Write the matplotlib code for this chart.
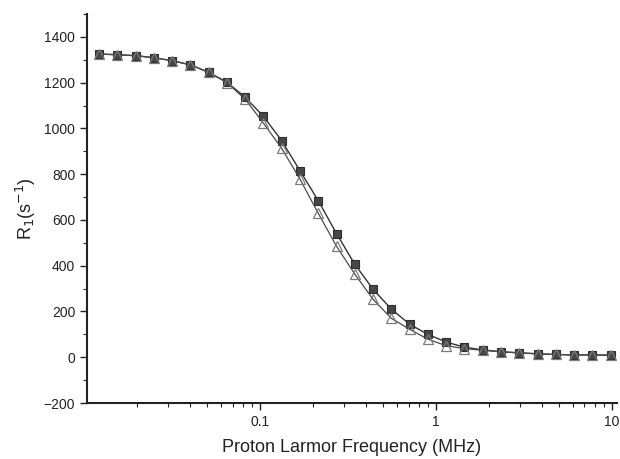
import matplotlib
matplotlib.use("Agg")
import matplotlib.pyplot as plt
from matplotlib.ticker import MultipleLocator, LogLocator, NullFormatter, FixedLocator, FixedFormatter

plt.rcParams['font.family'] = ['Liberation Sans', 'DejaVu Sans']

freq = [0.01216, 0.01545, 0.01963, 0.02493, 0.03167, 0.04023, 0.0511, 0.06492,
        0.08246, 0.1047, 0.133, 0.169, 0.2147, 0.2727, 0.3464, 0.44, 0.559,
        0.7101, 0.902, 1.146, 1.455, 1.849, 2.349, 2.984, 3.79, 4.815, 6.116,
        7.769, 9.868]

r1_squares = [1325, 1322, 1318, 1309, 1296, 1278, 1245, 1202, 1136, 1053, 946,
              815, 684, 540, 406, 297, 210, 144, 100, 66, 44, 32, 24, 19, 15,
              12, 10, 10, 9]

r1_triangles = [1325, 1322, 1318, 1309, 1296, 1278, 1245, 1200, 1128, 1023, 913,
                778, 629, 485, 363, 253, 170, 122, 79, 50, 38, 30, 24, 19, 15,
                12, 10, 10, 9]

x_ticks = [0.1, 1, 10]
x_ticklabels = ["0.1", "1", "10"]
y_ticks = [-200, 0, 200, 400, 600, 800, 1000, 1200, 1400]

fig = plt.figure(figsize=(6.2, 4.59), dpi=100)
ax = fig.add_axes([0.1403, 0.122, 0.8547, 0.8475])

ax.plot(freq, r1_squares, '-', color='#333333', lw=1.0, marker='s',
        markersize=5.8, markerfacecolor='#474747', markeredgecolor='#2e2e2e',
        markeredgewidth=0.8, zorder=2)
ax.plot(freq, r1_triangles, '-', color='#4a4a4a', lw=0.9, marker='^',
        markersize=7, markerfacecolor='none', markeredgecolor='#7a7a7a',
        markeredgewidth=0.9, zorder=3)

ax.set_xscale('log')
ax.set_xlim(0.0104, 10.7)
ax.set_ylim(-200, 1500)

ax.xaxis.set_major_locator(FixedLocator(x_ticks))
ax.xaxis.set_major_formatter(FixedFormatter(x_ticklabels))
ax.xaxis.set_minor_locator(LogLocator(base=10, subs=[2, 3, 4, 5, 6, 7, 8, 9]))
ax.xaxis.set_minor_formatter(NullFormatter())
ax.yaxis.set_major_locator(FixedLocator(y_ticks))
ax.yaxis.set_minor_locator(MultipleLocator(100))

for s in ['top', 'right']:
    ax.spines[s].set_visible(False)
for s in ['left', 'bottom']:
    ax.spines[s].set_linewidth(1.5)
    ax.spines[s].set_color('#222222')

ax.tick_params(which='major', direction='out', length=5, width=1.0,
               labelsize=10, colors='#222222')
ax.tick_params(which='minor', direction='out', length=3, width=0.8,
               colors='#222222')

ax.set_xlabel('Proton Larmor Frequency (MHz)', fontsize=13, color='#222222',
              labelpad=7)
ax.set_ylabel(r'R$_1$(s$^{-1}$)', fontsize=13, color='#222222', labelpad=4)

fig.savefig('out.png', dpi=100)
